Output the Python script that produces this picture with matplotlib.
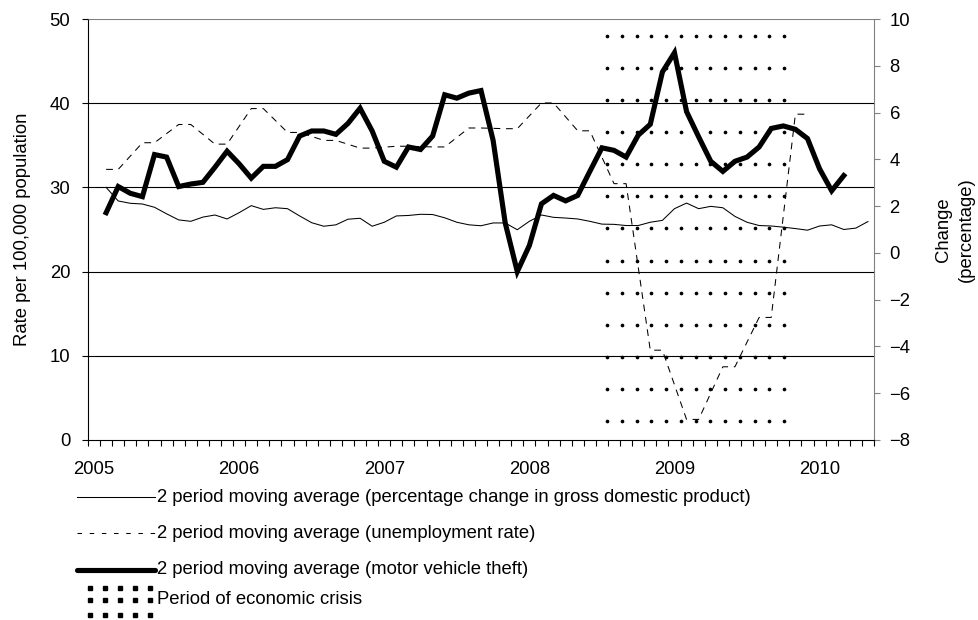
import numpy as np
import matplotlib
matplotlib.use("Agg")
import matplotlib.pyplot as plt
from matplotlib.lines import Line2D

plt.rcParams['font.family'] = ['Liberation Sans', 'DejaVu Sans']

# ---------------- data ----------------
years = ['2005', '2006', '2007', '2008', '2009', '2010']
n_months = 65          # Jan 2005 .. May 2010 (category axis)

theft_start = 1        # first month index with a 2-period moving average
theft = [27.0, 30.1, 29.3, 28.9, 33.9, 33.6, 30.1, 30.4, 30.6, 32.4,
         34.3, 32.8, 31.1, 32.5, 32.5, 33.3, 36.1, 36.7, 36.7, 36.3,
         37.6, 39.4, 36.7, 33.1, 32.4, 34.8, 34.5, 36.1, 41.0, 40.6,
         41.2, 41.5, 35.6, 25.8, 20.0, 23.1, 28.05, 29.05, 28.4, 29.05,
         31.9, 34.7, 34.4, 33.6, 36.2, 37.5, 43.7, 46.0, 39.0, 36.0,
         33.1, 31.9, 33.1, 33.6, 34.8, 37.0, 37.3, 36.9, 35.8, 32.2,
         29.6, 31.4]

gdp_start = 1
gdp = [2.80, 2.22, 2.12, 2.09, 1.95, 1.67, 1.41, 1.35, 1.53, 1.62,
       1.45, 1.72, 2.02, 1.86, 1.93, 1.89, 1.58, 1.29, 1.14, 1.20,
       1.44, 1.48, 1.14, 1.31, 1.58, 1.60, 1.65, 1.64, 1.50, 1.31,
       1.20, 1.16, 1.28, 1.28, 0.99, 1.35, 1.62, 1.52, 1.49, 1.45,
       1.35, 1.23, 1.22, 1.17, 1.17, 1.31, 1.39, 1.89, 2.13, 1.89,
       1.99, 1.93, 1.56, 1.31, 1.17, 1.15, 1.10, 1.04, 0.97, 1.15,
       1.20, 1.00, 1.06, 1.34]

unemp_months = [1, 2, 4, 5, 7, 8, 10, 11, 13, 14, 16, 17, 19, 20, 22, 23,
                25, 26, 28, 29, 31, 32, 34, 35, 37, 38, 40, 41, 43, 44,
                46, 47, 49, 50, 52, 53, 55, 56, 58, 59]
unemp = [3.57, 3.57, 4.71, 4.71, 5.49, 5.49, 4.65, 4.65, 6.17, 6.17,
         5.15, 5.15, 4.81, 4.81, 4.48, 4.48, 4.56, 4.56, 4.53, 4.53,
         5.34, 5.34, 5.31, 5.31, 6.41, 6.41, 5.22, 5.22, 2.96, 2.96,
         -4.16, -4.16, -7.12, -7.12, -4.87, -4.87, -2.76, -2.76, 5.93, 5.93]

crisis_start, crisis_end = 42, 57   # Jul 2008 .. Oct 2009

legend_labels = ['2 period moving average (percentage change in gross domestic product)',
                 '2 period moving average (unemployment rate)',
                 '2 period moving average (motor vehicle theft)',
                 'Period of economic crisis']

# ---------------- figure ----------------
W, H = 979, 620
fig = plt.figure(figsize=(W / 100, H / 100), dpi=100)
L, R, T, B = 88, 874, 19, 440
ax = fig.add_axes([L / W, 1 - B / H, (R - L) / W, (B - T) / H])
ax2 = ax.twinx()
ax.set_zorder(ax2.get_zorder() + 1)
ax.patch.set_visible(False)

FS = 13.3

# crisis dot pattern
dx = np.linspace(crisis_start + 0.43, crisis_end + 0.07, 13)
dy = np.linspace(2.26, 47.98, 13)
DX, DY = np.meshgrid(dx, dy)
ax.scatter(DX.ravel(), DY.ravel(), s=7, color='black', marker='o',
           linewidths=0, zorder=1)

# series
tx = np.arange(theft_start, theft_start + len(theft))
ax.plot(tx, theft, color='black', lw=3.7, solid_joinstyle='miter', zorder=5)

gx = np.arange(gdp_start, gdp_start + len(gdp))
ax2.plot(gx, gdp, color='black', lw=0.75)
ax2.plot(unemp_months, unemp, color='black', lw=0.75, linestyle=(0, (6.5, 5.5)))

# axes limits and ticks
ax.set_xlim(-0.5, n_months - 0.5)
ax.set_ylim(0, 50)
ax2.set_ylim(-8, 10)

ax.set_yticks(np.arange(0, 51, 10))
ax2.set_yticks(np.arange(-8, 11, 2))

ax.set_xticks(np.arange(0, n_months, 12))
ax.set_xticklabels(years)
ax.set_xticks(np.arange(-0.5, n_months, 1), minor=True)

ax.tick_params(axis='x', which='major', length=0, pad=15, labelsize=FS)
ax.tick_params(axis='x', which='minor', length=4, width=0.8, direction='out', color='black')
ax.tick_params(axis='y', length=4.3, width=0.8, direction='out', pad=8.5, labelsize=FS, color='black')
ax2.tick_params(axis='y', length=4.2, width=0.8, direction='out', pad=7, labelsize=FS, color='#808080')

# grid
ax.grid(axis='y', color='black', lw=0.8)
ax.set_axisbelow(False)
for gl in ax.get_ygridlines():
    gl.set_zorder(0.5)
ax.get_ygridlines()[-1].set_color('#808080')
ax.get_ygridlines()[0].set_visible(False)

for sp in ['top', 'right']:
    ax.spines[sp].set_visible(False)
ax.spines['left'].set_color('black')
ax.spines['bottom'].set_color('black')
for sp in ['top', 'left', 'bottom']:
    ax2.spines[sp].set_visible(False)
ax2.spines['right'].set_color('#808080')
for sp in ax.spines.values():
    sp.set_linewidth(0.8)
ax2.spines['right'].set_linewidth(0.8)

# axis titles
fig.text(22.5 / W, 1 - 229.5 / H, 'Rate per 100,000 population', rotation=90,
         ha='center', va='center', fontsize=FS)
fig.text(955 / W, 1 - 229.5 / H, 'Change\n(percentage)', rotation=90,
         ha='center', va='center', fontsize=FS, linespacing=1.4, multialignment='center')

# ---------------- legend (manual) ----------------
def fx(x):
    return x / W

def fy(y):
    return 1 - y / H

rows = [497, 533, 570, 600]
hx0, hx1, tx0 = 77, 155, 157
fig.add_artist(Line2D([fx(hx0), fx(hx1)], [fy(rows[0])] * 2, color='black', lw=0.75))
fig.add_artist(Line2D([fx(hx0), fx(hx1)], [fy(rows[1])] * 2, color='black', lw=0.75,
                      linestyle=(0, (4.3, 7.4))))
fig.add_artist(Line2D([fx(hx0), fx(hx1)], [fy(rows[2])] * 2, color='black', lw=3.7,
                      solid_capstyle='round'))
for yy in [588, 600, 615]:
    for xx in [90, 105, 120, 135, 150]:
        fig.add_artist(Line2D([fx(xx)], [fy(yy)], marker='s', markersize=2.3,
                              color='black', lw=0))
for yy, lab in zip(rows, legend_labels):
    fig.text(fx(tx0), fy(yy), lab, ha='left', va='center', fontsize=FS)

fig.savefig('out.png', dpi=100)
